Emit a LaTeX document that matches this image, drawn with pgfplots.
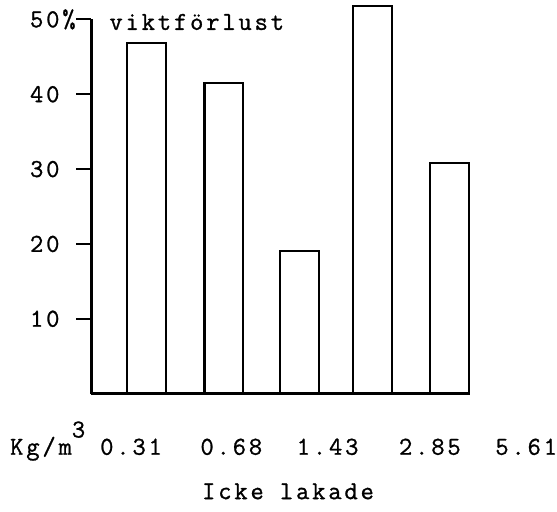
\documentclass[border=0pt]{standalone}
\usepackage{fontspec}
\setmainfont{Latin Modern Mono}[LetterSpace=11, FakeBold=1]
\usepackage{pgfplots}
\pgfplotsset{compat=1.18}
\begin{document}
\fontsize{19.5}{22}\selectfont
\begin{tikzpicture}
\begin{axis}[
  scale only axis,
  width=348.75pt, height=282.75pt,
  xmin=92, xmax=557, ymin=0, ymax=50,
  clip=false,
  axis lines*=left,
  x axis line style={draw=none},
  y axis line style={line width=2pt, black},
  ytick={10,20,30,40,50}, yticklabels={10,20,30,40,50\%},
  xtick={132,233,330,433,530}, xticklabels={0.31,0.68,1.43,2.85,5.61},
  tick align=outside,
  major tick length=11.25pt,
  xtick style={draw=none},
  ytick style={line width=1.5pt, black},
  yticklabel style={anchor=west, xshift=-35.25pt, inner sep=0pt},
  xticklabel style={anchor=base, yshift=-34.9pt, inner sep=0pt},
  /pgf/number format/assume math mode=true,
  xlabel={Icke lakade}, ylabel={viktförlust},
  every axis x label/.style={at={(rel axis cs:0.426,-0.261)}, anchor=center, inner sep=0pt},
  every axis y label/.style={at={(rel axis cs:0.0387,0.993)}, anchor=west, inner sep=0pt},
]
\addplot[ybar, bar width=39, draw=black, line width=1.6pt, fill=none]
  coordinates {(147.5,46.8) (225.5,41.5) (301.5,19.0) (375,51.8) (453,30.8)};
\addplot[line width=2pt, black] coordinates {(92,0) (473,0)};
\node[anchor=base west, inner sep=0pt] at (axis cs:10,-8.16) {Kg/m\raisebox{13pt}{3}};
\path (axis cs:0,-15.72) rectangle (axis cs:557,52.59);
\end{axis}
\end{tikzpicture}
\end{document}
